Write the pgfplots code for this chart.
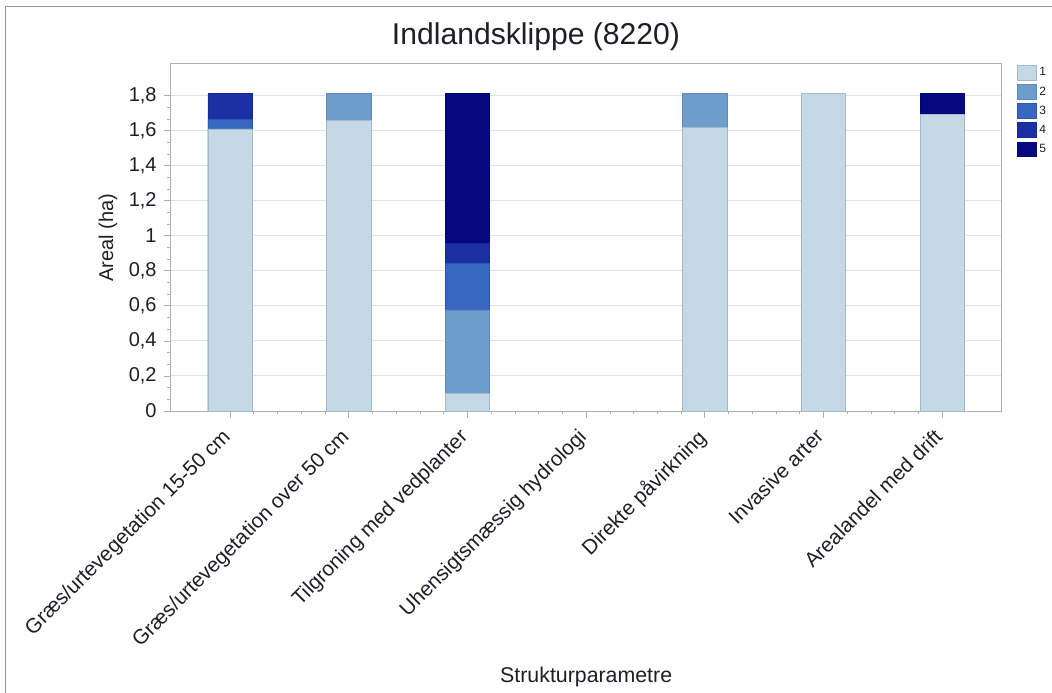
\documentclass[border=0pt]{standalone}
\usepackage{fontspec}
\setmainfont{Liberation Sans}
\usepackage{pgfplots}
\pgfplotsset{compat=1.18}

% bar colours, read off the legend
\definecolor{c1}{RGB}{196,217,229}
\definecolor{c2}{RGB}{110,157,203}
\definecolor{c3}{RGB}{56,103,192}
\definecolor{c4}{RGB}{27,49,163}
\definecolor{c5}{RGB}{4,9,128}
\definecolor{e1}{RGB}{160,186,202}
\definecolor{e2}{RGB}{92,138,188}
\definecolor{e3}{RGB}{45,88,176}
\definecolor{e4}{RGB}{22,40,150}
\definecolor{e5}{RGB}{3,7,110}
\definecolor{gridgray}{RGB}{226,226,226}
\definecolor{axisgray}{RGB}{175,175,175}
\definecolor{framegray}{RGB}{150,150,160}
\definecolor{txt}{RGB}{30,30,40}

\pgfplotsset{
  lg/.style={legend image code/.code={%
      \draw[##1, line width=0.5pt] (0pt,-5.5pt) rectangle (14pt,5.5pt);}},
}

\begin{document}
\begin{tikzpicture}
\useasboundingbox (-128pt,-210.75pt) rectangle (661pt,308.25pt);
\draw[framegray, line width=0.75pt] (-123.5pt,-212pt) -- (-123.5pt,303pt) -- (663pt,303pt);
\node[txt, font=\fontsize{22.6}{26}\selectfont] at (274pt,281pt) {Indlandsklippe (8220)};

\begin{axis}[
  at={(0,0)}, anchor=south west,
  scale only axis, width=623.25pt, height=260.25pt,
  xmin=-0.5, xmax=6.5, ymin=0, ymax=1.98,
  ybar, bar width=33.2pt, bar shift=0pt,
  xtick={0,1,2,3,4,5,6},
  xticklabels={Græs/urtevegetation 15-50 cm, Græs/urtevegetation over 50 cm,
    Tilgroning med vedplanter, Uhensigtsmæssig hydrologi, Direkte påvirkning,
    Invasive arter, Arealandel med drift},
  minor x tick num=4,
  ytick={0,0.2,0.4,0.6,0.8,1,1.2,1.4,1.6,1.8},
  minor y tick num=2,
  ymajorgrids,
  major grid style={draw=gridgray, line width=0.75pt},
  axis line style={draw=axisgray, line width=0.75pt},
  every tick/.style={draw=axisgray, line width=0.6pt},
  tick align=outside, tick pos=left,
  major tick length=5pt, minor tick length=2.5pt,
  /pgf/number format/assume math mode=true,
  /pgf/number format/use comma,
  yticklabel style={txt, font=\fontsize{15}{17}\selectfont, xshift=-2pt},
  xticklabel style={txt, font=\fontsize{15.5}{18}\selectfont,
    xshift=-7pt, yshift=-7pt, rotate=45, anchor=north east, inner sep=0pt},
  xlabel={Strukturparametre},
  xlabel style={txt, font=\fontsize{16}{19}\selectfont,
    at={(axis description cs:0.5,0)}, anchor=center, yshift=-199.5pt},
  ylabel={Areal (ha)},
  ylabel style={txt, font=\fontsize{15}{18}\selectfont,
    at={(axis description cs:0,0.5)}, anchor=center, yshift=47pt},
  legend style={at={(rel axis cs:1,1)}, anchor=north west, xshift=9.5pt, yshift=1.5pt,
    draw=none, fill=none, font=\fontsize{9}{10}\selectfont\color{txt},
    row sep=2.6pt, inner sep=2pt},
  legend cell align=left,
  reverse legend,
]
% each bar is drawn from 0 up to the top of its class, highest class first,
% so the lower classes cover it
\addplot[fill=c5, draw=e5, line width=0.5pt, lg] coordinates {(2,1.81) (6,1.81)};
\addplot[fill=c4, draw=e4, line width=0.5pt, lg] coordinates {(0,1.81) (2,0.958)};
\addplot[fill=c3, draw=e3, line width=0.5pt, lg] coordinates {(0,1.665) (2,0.84)};
\addplot[fill=c2, draw=e2, line width=0.5pt, lg] coordinates {(1,1.81) (2,0.577) (4,1.81)};
\addplot[fill=c1, draw=e1, line width=0.5pt, lg] coordinates {(0,1.61) (1,1.66) (2,0.10) (4,1.62) (5,1.81) (6,1.69)};
\legend{5,4,3,2,1}
\end{axis}
\end{tikzpicture}
\end{document}
